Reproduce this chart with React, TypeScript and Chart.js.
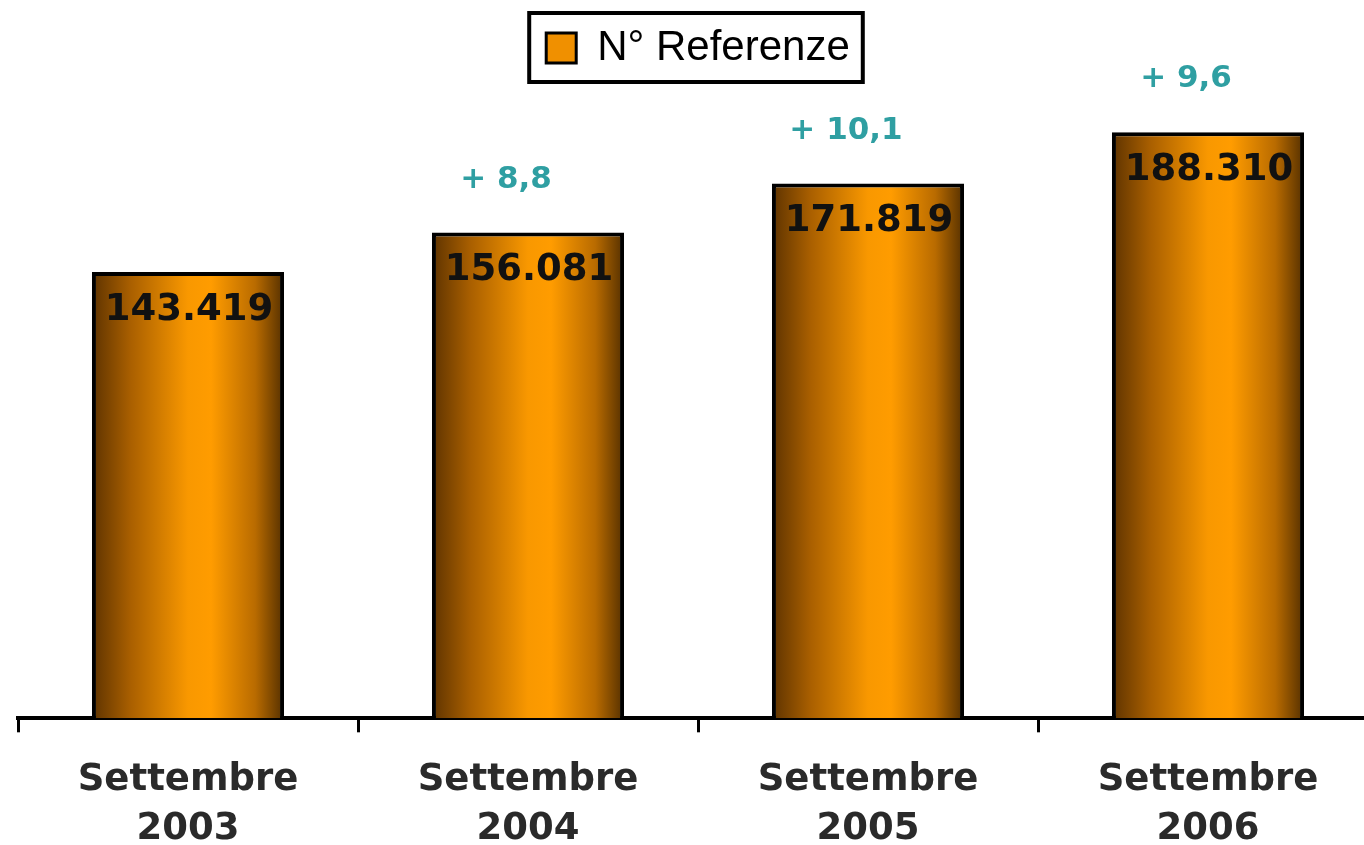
import React, { useEffect, useRef } from 'react';
import { Chart, registerables } from 'chart.js';

Chart.register(...registerables);

// ---- data ----
const categories: string[][] = [
  ['Settembre', '2003'],
  ['Settembre', '2004'],
  ['Settembre', '2005'],
  ['Settembre', '2006'],
];
const referenze: number[] = [143419, 156081, 171819, 188310];
const growthPct: (number | null)[] = [null, 8.8, 10.1, 9.6];
const seriesName = 'N° Referenze';
const yMin = 0;
const yMax = 205400;

const BAR_PCT = 0.565;

function fmtThousands(v: number): string {
  return String(v).replace(/\B(?=(\d{3})+(?!\d))/g, '.');
}
function fmtPct(v: number): string {
  return '+ ' + v.toFixed(1).replace('.', ',');
}

export default function App() {
  const ref = useRef<HTMLCanvasElement>(null);

  useEffect(() => {
    const canvas = ref.current;
    if (!canvas) return;

    const labelPlugin = {
      id: 'barLabels',
      afterDatasetsDraw(chart: any) {
        const ctx = chart.ctx;
        const meta = chart.getDatasetMeta(0);
        ctx.save();
        ctx.textAlign = 'center';
        ctx.textBaseline = 'middle';
        meta.data.forEach((bar: any, i: number) => {
          ctx.font = 'bold 37px "DejaVu Sans"';
          ctx.fillStyle = '#111111';
          ctx.fillText(fmtThousands(referenze[i]), bar.x + 1, bar.y + 38);
          const g = growthPct[i];
          if (g != null) {
            ctx.font = 'bold 31px "DejaVu Sans"';
            ctx.fillStyle = '#2f9fa2';
            ctx.fillText(fmtPct(g), bar.x - 22, bar.y - 53);
          }
        });
        ctx.restore();
      },
    };

    const framePlugin = {
      id: 'legendFrame',
      afterDraw(chart: any) {
        const hb = chart.legend && chart.legend.legendHitBoxes && chart.legend.legendHitBoxes[0];
        if (!hb) return;
        const ctx = chart.ctx;
        ctx.save();
        ctx.strokeStyle = '#000000';
        ctx.lineWidth = 4;
        ctx.strokeRect(hb.left - 17, hb.top - 14, hb.width + 30, hb.height + 27);
        ctx.restore();
      },
    };

    const chart = new Chart(canvas, {
      type: 'bar',
      data: {
        labels: categories,
        datasets: [
          {
            label: seriesName,
            data: referenze,
            backgroundColor: (c: any) => {
              const ch = c.chart;
              const xs = ch.scales && ch.scales.x;
              if (c.type !== 'data' || !xs || !ch.chartArea) return '#f39200';
              const cx = xs.getPixelForValue(c.dataIndex);
              const half = ((xs.width / categories.length) * BAR_PCT) / 2;
              const g = ch.ctx.createLinearGradient(cx - half, 0, cx + half, 0);
              g.addColorStop(0, '#5e3300');
              g.addColorStop(0.2, '#a95f00');
              g.addColorStop(0.5, '#f99800');
              g.addColorStop(0.62, '#ff9c00');
              g.addColorStop(0.85, '#b96b00');
              g.addColorStop(1, '#553000');
              return g;
            },
            borderColor: '#000000',
            borderWidth: 4,
            categoryPercentage: 1,
            barPercentage: BAR_PCT,
          },
        ],
      },
      options: {
        responsive: false,
        animation: false,
        devicePixelRatio: 1,
        layout: { padding: { left: 18, right: 2, top: 0, bottom: 9 } },
        plugins: {
          tooltip: { enabled: false },
          legend: {
            display: true,
            position: 'top',
            labels: {
              boxWidth: 30,
              boxHeight: 30,
              padding: 27,
              color: '#111111',
              font: { family: '"Liberation Sans", Arial, sans-serif', size: 42, weight: 'normal' },
              generateLabels: () => [
                {
                  text: seriesName,
                  fillStyle: '#f09000',
                  strokeStyle: '#000000',
                  lineWidth: 3,
                  hidden: false,
                  datasetIndex: 0,
                },
              ],
            },
          },
        },
        scales: {
          x: {
            z: 1,
            offset: true,
            border: { display: true, color: '#000000', width: 4 },
            grid: {
              display: true,
              offset: true,
              drawOnChartArea: false,
              drawTicks: true,
              tickLength: 14,
              tickColor: '#000000',
              tickWidth: 3,
              color: '#000000',
              lineWidth: 3,
            },
            ticks: {
              padding: 24,
              color: '#2a2a2a',
              maxRotation: 0,
              autoSkip: false,
              font: { family: '"DejaVu Sans", Verdana, sans-serif', size: 37, weight: 'bold', lineHeight: 1.32 },
            },
          },
          y: {
            display: false,
            min: yMin,
            max: yMax,
          },
        },
      },
      plugins: [labelPlugin, framePlugin],
    } as any);

    return () => {
      chart.destroy();
    };
  }, []);

  return (
    <div
      style={{
        position: 'fixed',
        left: 0,
        top: 0,
        width: 1364,
        height: 845,
        overflow: 'hidden',
        background: '#ffffff',
      }}
    >
      <canvas ref={ref} width={1380} height={887} style={{ width: 1380, height: 887, display: 'block' }} />
    </div>
  );
}
